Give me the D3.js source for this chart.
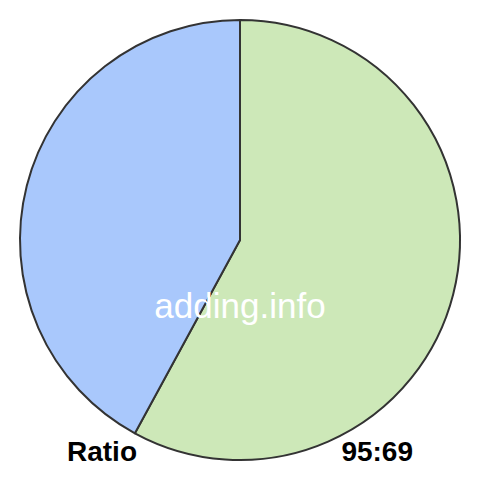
<!DOCTYPE html>
<html>
<head>
<meta charset="utf-8">
<script src="https://cdn.jsdelivr.net/npm/d3@7"></script>
<style>
  body { margin: 0; background: #fff; }
  svg { display: block; }
</style>
</head>
<body>
<div id="chart"></div>
<script>
// slice values, in drawing order (clockwise from 12 o'clock)
const labels = ['first', 'second'];
const values = [95, 69];
const colors = ['#cde8b8', '#a9c8fc'];
const ratioLabel = 'Ratio';
const ratioText = values.join(':');
const watermark = 'adding.info';

const width = 480, height = 480;
const cx = 240, cy = 240, radius = 220;

const svg = d3.select('#chart')
    .append('svg')
    .attr('width', width)
    .attr('height', height);

const pie = d3.pie().sort(null).value(d => d);
const arc = d3.arc().innerRadius(0).outerRadius(radius);

const g = svg.append('g')
    .attr('transform', `translate(${cx}, ${cy})`);

g.selectAll('path')
    .data(pie(values))
    .enter()
    .append('path')
    .attr('d', arc)
    .attr('fill', (d, i) => colors[i])
    .attr('stroke', '#333')
    .attr('stroke-width', 2)
    .attr('stroke-linejoin', 'round');

svg.append('text')
    .attr('x', cx)
    .attr('y', 318)
    .attr('text-anchor', 'middle')
    .attr('font-family', 'Liberation Sans, Arial, sans-serif')
    .attr('font-size', 35)
    .attr('fill', '#fff')
    .text(watermark);

svg.append('text')
    .attr('x', 67)
    .attr('y', 461)
    .attr('font-family', 'Liberation Sans, Arial, sans-serif')
    .attr('font-weight', 'bold')
    .attr('font-size', 28)
    .attr('fill', '#000')
    .text(ratioLabel);

svg.append('text')
    .attr('x', 413)
    .attr('y', 461)
    .attr('text-anchor', 'end')
    .attr('font-family', 'Liberation Sans, Arial, sans-serif')
    .attr('font-weight', 'bold')
    .attr('font-size', 28)
    .attr('fill', '#000')
    .text(ratioText);
</script>
</body>
</html>
